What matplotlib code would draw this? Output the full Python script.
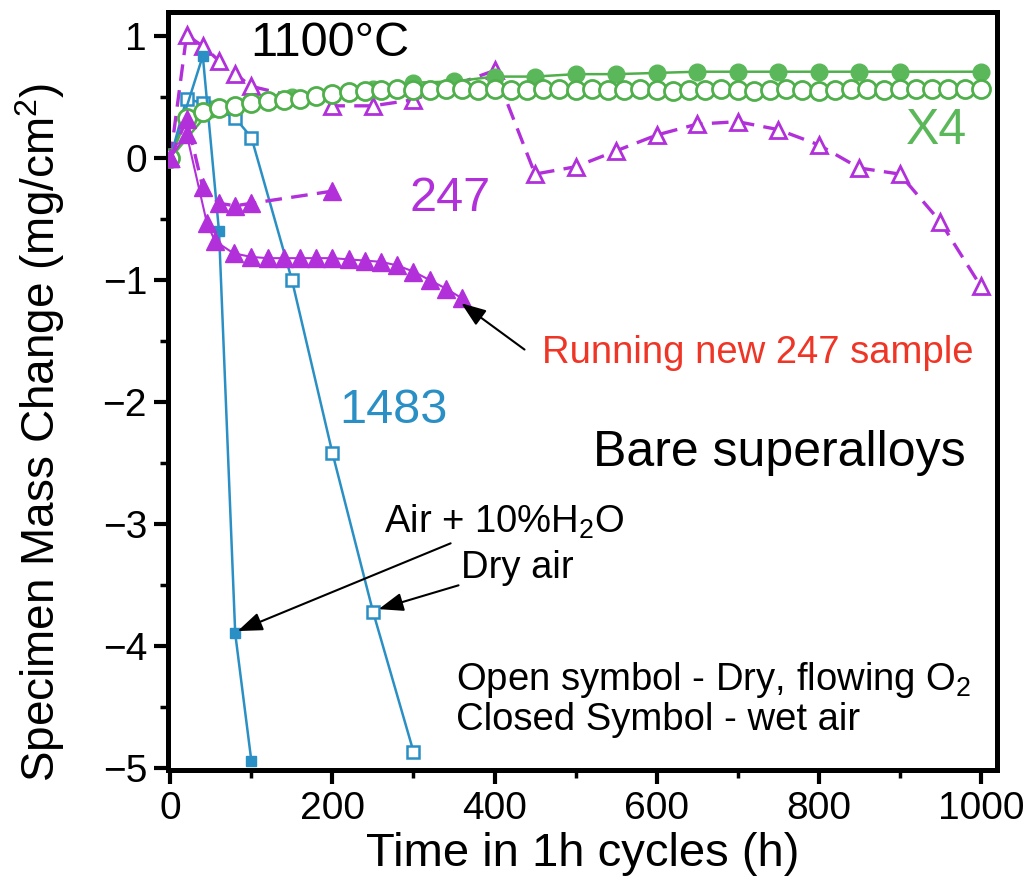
import matplotlib
matplotlib.use("Agg")
import matplotlib.pyplot as plt
from matplotlib.ticker import MultipleLocator

# ---------------- data ----------------
t_x4_dry = [0, 20, 40, 60, 80, 100, 120, 140, 160, 180, 200, 220, 240, 260, 280,
            300, 320, 340, 360, 380, 400, 420, 440, 460, 480, 500, 520, 540, 560,
            580, 600, 620, 640, 660, 680, 700, 720, 740, 760, 780, 800, 820, 840,
            860, 880, 900, 920, 940, 960, 980, 1000]
v_x4_dry = [0.00, 0.33, 0.38, 0.41, 0.43, 0.45, 0.47, 0.48, 0.49, 0.51, 0.53, 0.54,
            0.55, 0.56, 0.57, 0.56, 0.56, 0.57, 0.57, 0.56, 0.57, 0.56, 0.56, 0.57,
            0.57, 0.56, 0.57, 0.56, 0.56, 0.57, 0.56, 0.55, 0.56, 0.56, 0.57, 0.56,
            0.55, 0.56, 0.57, 0.56, 0.55, 0.56, 0.57, 0.57, 0.56, 0.57, 0.57, 0.57,
            0.57, 0.57, 0.57]

t_x4_wet = [0, 50, 100, 150, 200, 250, 300, 350, 400, 450, 500, 550, 600, 650, 700,
            750, 800, 850, 900, 1000]
v_x4_wet = [0.00, 0.40, 0.46, 0.50, 0.53, 0.57, 0.62, 0.63, 0.67, 0.67, 0.69, 0.69,
            0.70, 0.71, 0.71, 0.71, 0.71, 0.71, 0.71, 0.71]

t_247_dry = [0, 20, 40, 60, 80, 100, 200, 250, 300, 400, 450, 500, 550, 600, 650,
             700, 750, 800, 850, 900, 950, 1000]
v_247_dry = [0.00, 1.01, 0.92, 0.80, 0.69, 0.59, 0.43, 0.43, 0.48, 0.72, -0.13,
             -0.07, 0.06, 0.19, 0.28, 0.30, 0.235, 0.11, -0.08, -0.13, -0.52, -1.05]

t_247_wet = [0, 20, 40, 60, 80, 100, 200]
v_247_wet = [0.00, 0.32, -0.24, -0.37, -0.39, -0.37, -0.27]

t_247_new = [0, 20, 45, 55, 78, 100, 120, 140, 160, 180, 200, 220, 240, 260, 280,
             300, 320, 340, 360]
v_247_new = [0.00, 0.20, -0.53, -0.68, -0.78, -0.81, -0.82, -0.82, -0.82, -0.82,
             -0.82, -0.83, -0.84, -0.85, -0.88, -0.93, -1.00, -1.07, -1.15]

t_1483_dry = [0, 20, 40, 80, 100, 150, 200, 250, 300]
v_1483_dry = [0.00, 0.49, 0.45, 0.33, 0.17, -1.00, -2.42, -3.72, -4.87]

t_1483_wet = [0, 40, 60, 80, 100]
v_1483_wet = [0.00, 0.84, -0.60, -3.90, -4.95]

x_ticks = [0, 200, 400, 600, 800, 1000]
y_ticks = [-5, -4, -3, -2, -1, 0, 1]

# ---------------- style ----------------
PURPLE = "#B130DA"
BLUE = "#2A8FC4"
GREEN = "#4FB04B"
GREEN_FILL = "#5BB85A"
RED = "#EE3526"

NARROW = ["Liberation Sans Narrow", "Liberation Sans", "DejaVu Sans"]
REG = ["Liberation Sans", "DejaVu Sans"]
plt.rcParams["font.family"] = REG
plt.rcParams["mathtext.fontset"] = "custom"
plt.rcParams["mathtext.rm"] = "Liberation Sans"
plt.rcParams["mathtext.it"] = "Liberation Sans:italic"

fig = plt.figure(figsize=(10.26, 8.82), dpi=100)
ax = fig.add_axes([0.1637, 0.127, 0.808, 0.8594])

dash = (5, 2.8)

# X4
ax.plot(t_x4_wet, v_x4_wet, "-", color=GREEN, lw=1.8, marker="o", ms=12,
        mfc=GREEN_FILL, mec=GREEN_FILL, zorder=3)
ax.plot(t_x4_dry, v_x4_dry, "-", color=GREEN, lw=1.8, marker="o", ms=13,
        mfc="white", mec=GREEN, mew=2.0, zorder=4)

# 247 dry
ax.plot(t_247_dry, v_247_dry, color=PURPLE, lw=2.4, ls="--", dashes=dash,
        marker="^", ms=11, mfc="white", mec=PURPLE, mew=2.0, zorder=2)

# 1483
ax.plot(t_1483_dry, v_1483_dry, "-", color=BLUE, lw=1.8, marker="s", ms=9,
        mfc="white", mec=BLUE, mew=1.8, zorder=3)
ax.plot(t_1483_wet, v_1483_wet, "-", color=BLUE, lw=1.8, marker="s", ms=7,
        mfc=BLUE, mec=BLUE, zorder=3)

# 247 wet
ax.plot(t_247_wet, v_247_wet, color=PURPLE, lw=2.4, ls="--", dashes=dash,
        marker="^", ms=13, mfc=PURPLE, mec=PURPLE, zorder=5)
ax.plot(t_247_new, v_247_new, "-", color=PURPLE, lw=1.5,
        marker="^", ms=13, mfc=PURPLE, mec=PURPLE, zorder=5)

# axes
ax.set_xlim(-3, 1020)
ax.set_ylim(-5.02, 1.2)
ax.set_xticks(x_ticks)
ax.set_yticks(y_ticks)
ax.xaxis.set_minor_locator(MultipleLocator(100))
ax.yaxis.set_minor_locator(MultipleLocator(0.5))
ax.set_xticklabels([str(v) for v in x_ticks], fontfamily=NARROW, fontsize=28)
ax.set_yticklabels([str(v).replace("-", "\u2212") for v in y_ticks],
                   fontfamily=NARROW, fontsize=28)
ax.tick_params(which="major", direction="out", length=10, width=3, pad=5,
               top=False, right=False)
ax.tick_params(which="minor", direction="out", length=6, width=2.5,
               top=False, right=False)
for s in ax.spines.values():
    s.set_linewidth(3.6)

ax.set_xlabel("Time in 1h cycles (h)", fontfamily=NARROW, fontsize=34, labelpad=4)
ax.set_ylabel("Specimen Mass Change (mg/cm$^2$)", fontfamily=NARROW, fontsize=33)
ax.yaxis.set_label_coords(-0.122, 0.446)

# text labels
ax.text(197, 0.94, "1100°C", fontsize=35, ha="center", va="center", color="black")
ax.text(345, -0.33, "247", fontsize=35, ha="center", va="center", color=PURPLE)
ax.text(945, 0.22, "X4", fontsize=36, ha="center", va="center", color=GREEN_FILL)
ax.text(275, -2.07, "1483", fontsize=35, ha="center", va="center", color=BLUE)
ax.text(752, -2.42, "Bare superalloys", fontsize=36, ha="center", va="center")
ax.text(725, -1.6, "Running new 247 sample", fontsize=27.5, ha="center",
        va="center", color=RED)
ax.text(352, -4.28, "Open symbol - Dry, flowing O$_2$", fontsize=27.5,
        ha="left", va="center")
ax.text(352, -4.61, "Closed Symbol - wet air", fontsize=27.5, ha="left", va="center")

arrow = dict(arrowstyle="-|>,head_length=0.75,head_width=0.28", color="black",
             lw=1.5, shrinkA=0, shrinkB=0, mutation_scale=20)
ax.annotate("", xy=(359, -1.19), xytext=(437, -1.57), arrowprops=arrow, zorder=6)
ax.annotate("Air + 10%H$_2$O", xy=(83, -3.88), xytext=(263, -2.98),
            fontsize=27.5, ha="left", va="center", arrowprops=arrow, zorder=6)
ax.annotate("Dry air", xy=(257, -3.70), xytext=(359, -3.36),
            fontsize=27.5, ha="left", va="center", arrowprops=arrow, zorder=6)

fig.savefig("out.png", dpi=100)
